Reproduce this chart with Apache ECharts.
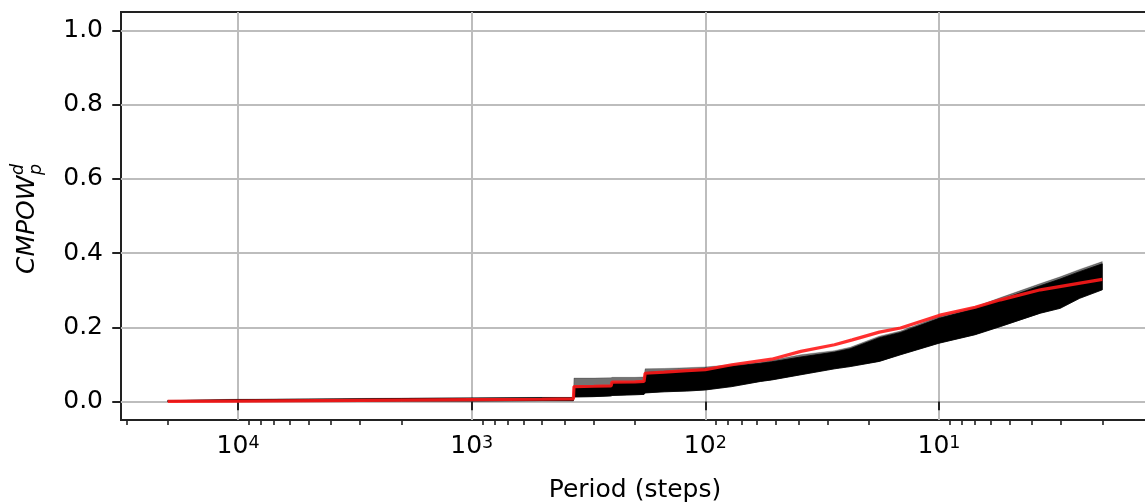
<!DOCTYPE html>
<html>
<head>
<meta charset="utf-8">
<script src="https://cdn.jsdelivr.net/npm/echarts@6/dist/echarts.min.js"></script>
<style>
  html, body { margin: 0; padding: 0; background: #ffffff; }
  #chart { width: 1145px; height: 504px; }
</style>
</head>
<body>
<div id="chart"></div>
<script>
// Ensemble envelope: periods (steps) and lower / dense-core / outer edges of the member curves
const bandPeriods = [20000, 10000, 5000, 2000, 1000, 500, 367, 365, 300, 253, 251, 200, 183, 181, 150, 120, 100, 77, 58, 52, 39, 28, 24, 18, 14.6, 10, 7, 5.45, 3.68, 3.03, 2.5, 2];
const bandLow  = [0, 0, 0, 0.001, 0.001, 0.002, 0.002, 0.012, 0.013, 0.015, 0.016, 0.018, 0.019, 0.023, 0.026, 0.028, 0.031, 0.040, 0.054, 0.058, 0.072, 0.088, 0.094, 0.108, 0.126, 0.157, 0.180, 0.202, 0.238, 0.251, 0.278, 0.301];
const bandCore = [0.002, 0.005, 0.006, 0.008, 0.009, 0.010, 0.010, 0.042, 0.042, 0.043, 0.051, 0.052, 0.053, 0.078, 0.081, 0.084, 0.088, 0.095, 0.103, 0.107, 0.120, 0.133, 0.142, 0.172, 0.186, 0.224, 0.250, 0.274, 0.312, 0.330, 0.350, 0.371];
const bandHigh = [0.003, 0.006, 0.007, 0.009, 0.010, 0.011, 0.011, 0.063, 0.063, 0.064, 0.065, 0.065, 0.066, 0.088, 0.089, 0.091, 0.093, 0.099, 0.106, 0.111, 0.126, 0.137, 0.146, 0.176, 0.190, 0.229, 0.255, 0.280, 0.318, 0.336, 0.356, 0.377];

// Observed curve
const obsPeriods = [20000, 10000, 3000, 1000, 500, 367, 365, 300, 253, 251, 200, 183, 181, 150, 120, 100, 77, 52, 39, 28, 23.5, 18, 14.6, 10, 7, 5.45, 3.68, 2.49, 2];
const obsValues  = [0, 0.001, 0.003, 0.005, 0.006, 0.007, 0.040, 0.041, 0.042, 0.052, 0.053, 0.054, 0.076, 0.079, 0.083, 0.086, 0.099, 0.114, 0.135, 0.153, 0.166, 0.187, 0.198, 0.232, 0.254, 0.274, 0.301, 0.319, 0.329];

// Axis ticks
const yTicks = [0, 0.2, 0.4, 0.6, 0.8, 1.0];
const xDecades = [1, 10, 100, 1000, 10000];
const xMajorTicks = [10, 100, 1000, 10000];
const xMinorMultiples = [2, 3, 4, 5, 6, 7, 8, 9];

const FONT = 'DejaVu Sans';
const TXT = '#000000';

// Log-axis limits: data span padded by 5% on each side in log space
const pMin = Math.min(...bandPeriods), pMax = Math.max(...bandPeriods);
const pad = 0.05 * (Math.log10(pMax) - Math.log10(pMin));
const xMin = Math.pow(10, Math.log10(pMin) - pad);
const xMax = Math.pow(10, Math.log10(pMax) + pad);

const xMinorTicks = [];
xDecades.forEach(d => xMinorMultiples.forEach(m => {
  const v = d * m;
  if (v >= xMin && v <= xMax) xMinorTicks.push(v);
}));

const zip = (xs, ys) => xs.map((x, i) => [x, ys[i]]);

// Filled region between two edges, projected through the chart's axes
function bandPolygon(lower, upper, fill, opacity) {
  return function (params, api) {
    if (params.dataIndex !== 0) return null;
    const pts = [];
    for (let i = 0; i < bandPeriods.length; i++) pts.push(api.coord([bandPeriods[i], upper[i]]));
    for (let i = bandPeriods.length - 1; i >= 0; i--) pts.push(api.coord([bandPeriods[i], lower[i]]));
    return {
      type: 'polygon',
      shape: { points: pts },
      style: { fill: fill, opacity: opacity, stroke: fill, lineWidth: 0.8, strokeOpacity: opacity }
    };
  };
}

const chart = echarts.init(document.getElementById('chart'), null, { renderer: 'canvas' });

const baseX = {
  type: 'log',
  logBase: 10,
  inverse: true,
  min: xMin,
  max: xMax,
  position: 'bottom',
  gridIndex: 0
};

const option = {
  animation: false,
  backgroundColor: '#ffffff',
  grid: {
    left: 121, top: 12, width: 1028, height: 408,
    outerBoundsMode: 'none',
    containLabel: false,
    show: true, borderColor: '#222222', borderWidth: 2, backgroundColor: 'transparent'
  },
  xAxis: [
    Object.assign({}, baseX, {
      axisLine: { show: false },
      axisTick: { show: true, customValues: xMajorTicks, length: 8.75, lineStyle: { color: '#222', width: 2 } },
      axisLabel: {
        show: true,
        customValues: xMajorTicks,
        margin: 14,
        formatter: v => '{b|10}{s|' + Math.round(Math.log10(v)) + '}',
        rich: {
          b: { fontFamily: FONT, fontSize: 25, color: TXT, lineHeight: 25, verticalAlign: 'bottom' },
          s: { fontFamily: FONT, fontSize: 17.5, color: TXT, lineHeight: 17.5, verticalAlign: 'top', padding: [0, 0, 10, 0] }
        }
      },
      splitLine: { show: true, lineStyle: { color: '#bdbdbd', width: 2 } },
      name: 'Period (steps)',
      nameLocation: 'middle',
      nameGap: 58,
      nameTextStyle: { fontFamily: FONT, fontSize: 25, color: TXT }
    }),
    Object.assign({}, baseX, {
      axisLine: { show: false },
      axisTick: { show: true, customValues: xMinorTicks, length: 5, lineStyle: { color: '#222', width: 1.6 } },
      axisLabel: { show: false },
      splitLine: { show: false }
    })
  ],
  yAxis: {
    type: 'value',
    min: -0.05,
    max: 1.05,
    axisLine: { show: false },
    axisTick: { show: true, customValues: yTicks, length: 8.75, lineStyle: { color: '#222', width: 2 } },
    axisLabel: {
      customValues: yTicks,
      margin: 18,
      fontFamily: FONT, fontSize: 25, color: TXT,
      padding: [6, 0, 0, 0],
      formatter: v => v.toFixed(1)
    },
    splitLine: { show: true, lineStyle: { color: '#bdbdbd', width: 2 } }
  },
  graphic: [{
    type: 'group',
    x: 27, y: 274,
    rotation: Math.PI / 2,
    children: [
      { type: 'text', x: 0, y: 0, style: { text: 'CMPOW', font: 'italic 25px "DejaVu Sans"', fill: TXT, align: 'left', verticalAlign: 'middle' } },
      { type: 'text', x: 99, y: -9, style: { text: 'd', font: 'italic 17.5px "DejaVu Sans"', fill: TXT, align: 'left', verticalAlign: 'middle' } },
      { type: 'text', x: 99, y: 9, style: { text: 'p', font: 'italic 17.5px "DejaVu Sans"', fill: TXT, align: 'left', verticalAlign: 'middle' } }
    ]
  }],
  series: [
    {
      name: 'envelope-edge', type: 'custom', silent: true, z: 2,
      renderItem: bandPolygon(bandLow, bandHigh, '#000000', 0.55),
      data: zip(bandPeriods, bandHigh)
    },
    {
      name: 'envelope-core', type: 'custom', silent: true, z: 3,
      renderItem: bandPolygon(bandLow, bandCore, '#000000', 1),
      data: zip(bandPeriods, bandCore)
    },
    {
      name: 'observed', type: 'line', symbol: 'none', silent: true,
      lineStyle: { color: '#ff1a1a', width: 3.2, opacity: 0.9 },
      data: zip(obsPeriods, obsValues), z: 5
    }
  ]
};

chart.setOption(option);
</script>
</body>
</html>
